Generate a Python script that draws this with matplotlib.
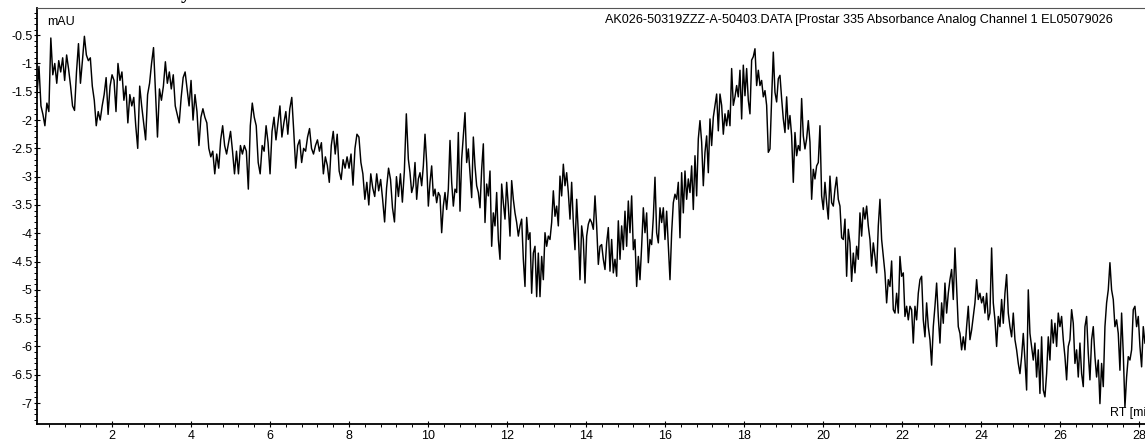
import numpy as np
import matplotlib
matplotlib.use("Agg")
import matplotlib.pyplot as plt
from matplotlib.ticker import MultipleLocator, FuncFormatter

plt.rcParams['font.family'] = ['Liberation Sans', 'DejaVu Sans']
plt.rcParams['axes.unicode_minus'] = False

# ---- data: first part sampled every 0.05 min ----
seg1_start = 0.10
seg1_step = 0.05
seg1_mau = [
    -1.55, -1.05, -1.75, -1.90, -2.10, -1.70, -1.85, -0.55, -1.20, -1.00,
    -1.35, -0.95, -1.15, -0.90, -1.30, -0.85, -1.10, -1.40, -1.75,
    -1.83, -1.15, -0.65, -1.35, -0.95, -0.52, -0.85, -0.95, -0.90, -1.40,
    -1.65, -2.10, -1.85, -2.00, -1.75, -1.55, -1.25, -1.90, -1.40, -1.20,
    -1.30, -1.85, -1.00, -1.30, -1.15, -1.65, -1.40, -2.05, -1.55, -1.75,
    -1.60, -2.10, -2.50, -1.40, -1.75, -2.05, -2.35, -1.55, -1.35, -1.00,
    -0.72, -1.50, -2.30, -1.45, -1.65, -1.40, -0.97, -1.35, -1.15, -1.45,
    -1.20, -1.75, -1.90, -2.05, -1.60, -1.25, -1.15, -1.45, -1.75, -1.30,
    -2.00, -1.55, -1.85, -2.45, -1.95, -1.80, -1.95, -2.05, -2.50, -2.65,
    -2.55, -2.95, -2.60, -2.85, -2.35, -2.10, -2.45, -2.60, -2.40, -2.20,
    -2.55, -2.95, -2.55, -2.95, -2.45, -2.60, -2.45, -2.55, -3.22, -2.10,
    -1.70, -1.95, -2.10, -2.75, -2.95, -2.45, -2.55, -2.10, -2.40, -2.95,
    -2.20, -1.95, -2.35, -2.05, -1.75, -2.30, -2.05, -1.85, -2.25, -1.80,
    -1.60, -2.20, -2.85, -2.45, -2.35, -2.75, -2.50, -2.55, -2.30, -2.15,
    -2.50, -2.60, -2.45, -2.35, -2.55, -2.40, -2.95, -2.65, -2.80, -3.10,
    -2.45, -2.20, -2.60, -2.25, -2.90, -3.05, -2.70, -2.85, -2.65, -2.85,
    -2.60, -3.15, -2.50, -2.25, -2.30, -2.75, -2.95, -3.40, -3.10, -3.50,
    -2.95, -3.20, -3.35, -2.95, -3.25, -3.05, -3.40, -3.80, -3.20, -2.85,
    -3.05, -3.55, -3.80, -3.00, -3.35, -2.95, -3.45, -2.90, -1.89,
]

# ---- second part sampled every 0.04219 min ----
seg2_start = 9.501
seg2_step = 0.04219
seg2_mau = [
    -2.69, -2.93, -3.28, -3.16, -2.75, -3.40, -3.04, -2.93, -3.16, -2.81,
    -2.25, -2.75, -3.52, -3.10, -2.81, -3.34, -3.22, -3.46, -3.28, -3.34,
    -3.99, -3.52, -3.28, -3.58, -3.22, -2.36, -3.10, -3.52, -3.22, -3.28,
    -2.22, -3.61, -2.69, -2.28, -1.87, -2.75, -2.51, -2.93, -3.37, -2.30,
    -2.81, -3.16, -3.28, -3.55, -2.87, -2.42, -3.81, -3.13, -3.34, -2.90,
    -4.23, -3.64, -3.87, -3.28, -4.11, -4.46, -3.13, -3.46, -3.75, -3.10,
    -3.52, -4.05, -3.07, -3.40, -3.64, -3.81, -4.05, -3.87, -3.75, -4.46,
    -4.94, -3.72, -4.11, -3.99, -5.06, -4.35, -4.23, -5.12, -4.35, -5.12,
    -4.41, -4.82, -3.99, -4.23, -4.05, -4.11, -3.81, -3.25, -3.70, -3.52,
    -3.87, -2.99, -3.34, -2.78, -3.16, -2.93, -3.28, -3.75, -3.10, -3.81,
    -4.29, -3.40, -3.99, -4.82, -3.87, -4.11, -4.88, -4.05, -3.84, -3.75,
    -3.81, -3.93, -3.34, -3.87, -4.55, -4.23, -4.20, -4.46, -4.64, -4.17,
    -3.90, -4.67, -4.11, -4.70, -4.46, -4.76, -3.78, -4.46, -3.87, -4.29,
    -3.61, -4.23, -3.43, -3.99, -3.34, -4.29, -4.11, -4.94, -4.41, -4.82,
    -4.23, -3.55, -3.99, -3.64, -4.52, -4.11, -4.20, -3.72, -3.01, -3.99,
    -4.17, -3.55, -3.81, -3.55, -4.11, -3.61, -4.23, -4.82, -3.99, -3.46,
    -3.31, -3.40, -3.10, -4.08, -2.93, -3.64, -2.90, -3.40, -3.04, -3.28,
    -2.81, -3.58, -2.63, -3.34, -2.33, -2.01, -2.39, -3.16, -2.57, -2.28,
    -2.93, -1.98, -2.45, -1.95, -1.74, -1.54, -2.19, -1.54, -1.74, -2.25,
    -1.89, -2.10, -1.83, -2.10, -1.09, -1.74, -1.59, -1.39, -1.59, -1.12,
    -1.98, -1.03, -1.57, -1.09, -1.65, -1.89, -0.94, -0.88, -0.74, -1.39,
    -1.12, -1.39, -1.30, -1.59, -1.48, -1.74, -2.57,
    -2.51, -1.62, -0.80, -1.51, -1.68, -1.27, -1.21, -1.62, -1.98, -2.22,
    -1.59, -2.16, -1.92, -2.28, -3.10, -2.22, -2.63, -2.45, -2.54, -1.62,
    -2.28, -2.51, -2.33, -2.01, -2.39, -3.40, -2.87, -3.04, -2.81, -2.75,
    -2.10, -3.34, -3.58, -3.10, -3.46, -3.75, -2.99, -3.46, -3.52, -3.22,
    -3.01, -3.40, -3.52, -4.08, -4.11, -3.75, -4.76, -3.93, -4.17, -4.85,
    -4.35, -4.70, -4.23, -4.46, -3.64, -4.05, -3.55, -3.75, -3.52, -3.87,
    -4.11, -4.58, -4.17, -4.41, -4.70, -3.87, -3.40, -4.11, -4.41, -4.70,
    -5.23, -4.82, -4.94, -4.49, -5.35, -5.41, -5.06, -5.41, -4.41, -4.76,
    -4.70, -5.47, -5.29, -5.53, -5.29, -5.35, -5.94, -5.29, -5.53, -5.06,
    -4.82, -4.76, -5.53, -5.83, -5.23, -5.65, -5.88, -6.33, -5.65, -5.29,
    -4.88, -5.47, -5.94, -5.23, -5.59, -4.88, -5.41, -5.06, -4.82, -4.64,
    -5.17, -4.26, -4.94, -5.65, -5.77, -6.06, -5.83, -6.06, -5.65, -5.29,
    -5.88, -5.71, -5.47, -5.23, -4.82, -5.17, -5.06, -5.23, -5.12, -5.41,
    -5.06, -5.53, -5.41, -4.26, -5.23, -5.53, -6.00, -5.47, -5.65, -5.17,
    -5.59, -5.06, -4.73, -5.41, -5.65, -5.83, -5.41, -5.88, -6.06, -6.30,
    -6.48, -6.18, -5.77, -6.24, -6.77, -5.00, -5.77, -6.00, -6.24, -5.94,
    -6.54, -6.06, -6.83, -5.83, -6.77, -6.89, -6.48, -5.83, -6.24, -5.53,
    -5.94, -5.59, -6.00, -5.41, -5.65, -5.47, -5.88, -6.18, -6.59, -6.00,
    -5.88, -5.35, -5.59, -6.30, -6.06, -6.54, -5.94, -6.48, -6.71, -5.65,
    -5.47, -6.12, -6.59, -5.88, -5.65, -6.18, -6.54, -6.24, -7.01, -6.30,
    -6.71, -5.65, -5.23, -5.00, -4.52, -5.00, -5.17, -5.65, -5.53, -5.77,
    -6.42, -5.41, -6.12, -7.07, -6.54, -6.18, -6.24, -6.06, -5.35, -5.29,
    -5.65, -5.47, -6.00, -6.36, -5.65, -5.94,
]

header_text = "AK026-50319ZZZ-A-50403.DATA [Prostar 335 Absorbance Analog Channel 1 EL05079026"
y_unit = "mAU"
x_unit = "RT [min]"
title_peek = "y"

t1 = seg1_start + seg1_step * np.arange(len(seg1_mau))
t2 = seg2_start + seg2_step * np.arange(len(seg2_mau))
rt = np.concatenate([t1, t2])
mau = np.concatenate([seg1_mau, seg2_mau])

W, H = 1145, 440
fig = plt.figure(figsize=(W / 100, H / 100), dpi=100)
left = 37 / W
bottom = 1 - 424 / H
height = (424 - 8) / H
xmin, xmax = 0.1, 28.6
width = (xmax - xmin) * 39.5 / W
ax = fig.add_axes([left, bottom, width, height])

ax.plot(rt, mau, color='black', lw=1.05)

ax.set_xlim(xmin, xmax)
ax.set_ylim(-7.37, -0.02)

ax.xaxis.set_major_locator(MultipleLocator(2))
ax.xaxis.set_minor_locator(MultipleLocator(0.4))
ax.yaxis.set_major_locator(MultipleLocator(0.5))
ax.yaxis.set_minor_locator(MultipleLocator(0.1))
ax.yaxis.set_major_formatter(FuncFormatter(lambda v, p: "%g" % v))
ax.xaxis.set_major_formatter(FuncFormatter(lambda v, p: "%g" % v))

ax.tick_params(axis='both', which='major', direction='inout', length=5,
               width=0.8, labelsize=9, colors='black')
ax.tick_params(axis='both', which='minor', direction='out', length=2.2, width=0.7)
ax.tick_params(axis='y', which='major', pad=0.5)
ax.tick_params(axis='x', which='major', pad=1.5)

for s in ['left', 'bottom']:
    ax.spines[s].set_linewidth(1.3)
    ax.spines[s].set_color('black')
ax.spines['top'].set_linewidth(0.8)
ax.spines['top'].set_color('#555555')
ax.spines['right'].set_visible(False)

fig.text(1113 / W, 1 - 23 / H, header_text, ha='right', va='baseline',
         fontsize=9.1, color='black')
fig.text(47 / W, 1 - 25 / H, y_unit, ha='left', va='baseline',
         fontsize=9, color='black')
fig.text(1110 / W, 1 - 416 / H, x_unit, ha='left', va='baseline',
         fontsize=9, color='black')
fig.text(186 / W, 1 + 0.5 / H, title_peek, ha='center', va='baseline',
         fontsize=14, fontweight='bold', family=['Liberation Serif', 'DejaVu Serif'])

fig.savefig("out.png", dpi=100)
